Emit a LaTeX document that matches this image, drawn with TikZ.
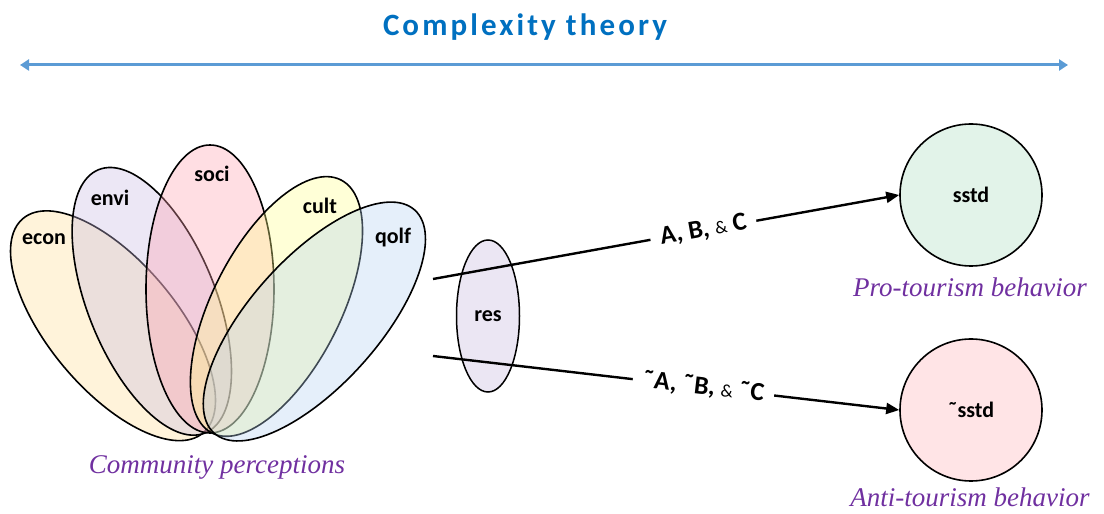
\documentclass[tikz,border=0pt]{standalone}
\usepackage{fontspec}
\setmainfont{Carlito}
\newfontfamily\capfont{Liberation Serif}
\newfontfamily\titlefont[LetterSpace=10]{Carlito}
\usetikzlibrary{arrows.meta,shapes.geometric}
\definecolor{theoryblue}{RGB}{91,155,213}
\definecolor{titleblue}{RGB}{0,112,192}
\definecolor{capviolet}{RGB}{112,48,160}
\definecolor{econ fill}{RGB}{255,222,150}
\definecolor{envi fill}{RGB}{200,185,225}
\definecolor{soci fill}{RGB}{255,160,175}
\definecolor{cult fill}{RGB}{255,255,140}
\definecolor{qolf fill}{RGB}{180,210,240}
\definecolor{resfill}{RGB}{235,230,243}
\definecolor{profill}{RGB}{226,243,233}
\definecolor{antifill}{RGB}{255,228,230}
\begin{document}
\begin{tikzpicture}[x=1pt, y=1pt,
  every node/.style={font=\fontsize{22}{26}\selectfont\bfseries},
  petal/.style={draw, line width=1.6pt, fill opacity=.35},
  caption/.style={font=\fontsize{27}{32}\selectfont\capfont\itshape, text=capviolet},
  outcome/.style={draw, circle, line width=1.6pt, minimum size=142pt, inner sep=0pt},
  link/.style={line width=2.4pt, -{Triangle[length=13pt, width=11pt]}},
  linklabel/.style={pos=.58, sloped, fill=white, inner xsep=10pt, font=\fontsize{26}{30}\selectfont\bfseries}]
  \useasboundingbox (0,0) rectangle (1104,514);
  % title and axis
  \node[font=\fontsize{31}{34}\selectfont\titlefont\bfseries, text=titleblue] (title) at (525,487) {Complexity theory};
  \coordinate (axisL) at (20,449);
  \coordinate (axisR) at (1068,449);
  \draw[theoryblue, line width=3pt, {Triangle[length=9pt, width=11pt]}-{Triangle[length=9pt, width=11pt]}] (axisL) -- (axisR);
  % perception petals
  \foreach \nm/\ang/\len/\bx in {econ/40/140/203, envi/22/142/205, soci/0/144/210, cult/-27/142/212, qolf/-42/150/214}
    \draw[petal, fill=\nm\space fill, shift={(\bx,81)}, rotate=\ang] (0,\len) ellipse (64 and \len);
  \foreach \nm/\x/\y in {econ/44/275, envi/110/316, soci/212/340, cult/320/308, qolf/393/276}
    \node (\nm) at (\x,\y) {\nm};
  \node[caption] (commtxt) at (217,47) {Community perceptions};
  % resident filter and outcomes
  \node[draw, ellipse, line width=1.5pt, fill=resfill, minimum width=63pt, minimum height=152pt, inner sep=0pt] (res) at (488,198) {res};
  \node[outcome, fill=profill] (sstd) at (971,319) {sstd};
  \node[outcome, fill=antifill] (nsstd) at (971,104) {˜sstd};
  \node[caption] (protxt) at (970,227) {Pro-tourism behavior};
  \node[caption] (antitxt) at (970,17) {Anti-tourism behavior};
  \coordinate (fromA) at (433,235);
  \coordinate (fromB) at (433,158);
  \draw[link] (fromA) -- node[linklabel] {A, B, {\mdseries\fontsize{18}{20}\selectfont\&} C} (sstd.west);
  \draw[link] (fromB) -- node[linklabel] {˜A, ˜B, {\mdseries\fontsize{18}{20}\selectfont\&} ˜C} (nsstd.west);
\end{tikzpicture}
\end{document}
